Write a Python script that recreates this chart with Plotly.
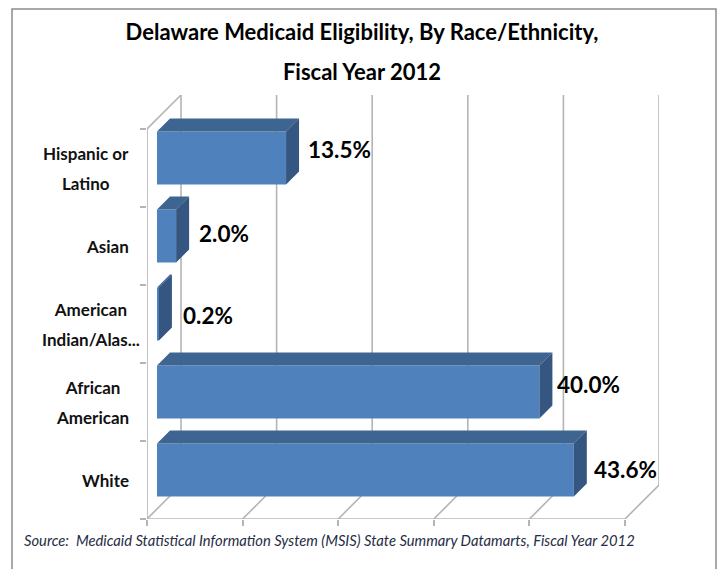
import plotly.graph_objects as go

# --- data (bottom to top, as the axis runs) ---
categories = ["White", "African<br>American", "American<br>Indian/Alas...", "Asian", "Hispanic or<br>Latino"]
values = [43.6, 40.0, 0.2, 2.0, 13.5]
value_labels = ["43.6%", "40.0%", "0.2%", "2.0%", "13.5%"]
x_ticks = [0, 10, 20, 30, 40, 50]
title_lines = ["Delaware Medicaid Eligibility, By Race/Ethnicity,", "Fiscal Year 2012"]
source_text = "Source:  Medicaid Statistical Information System (MSIS) State Summary Datamarts, Fiscal Year 2012"

# --- geometry / style ---
W, H = 719, 569
L, R_PX, T, B = 147, 659, 95, 519
PX_PER_X = 478 / 50
PX_PER_Y = 78
WALL = 34
BAR_OFFSET = 10
BAR_DEPTH = 13
BAR_WIDTH = 53 / 78
ys = list(range(len(categories)))
wx, wy = WALL / PX_PER_X, WALL / PX_PER_Y
ox, oy = BAR_OFFSET / PX_PER_X, BAR_OFFSET / PX_PER_Y
dx, dy = BAR_DEPTH / PX_PER_X, BAR_DEPTH / PX_PER_Y
y0, y1 = -0.5, len(categories) - 0.5
FONT = "Lato"
GRID = "#b4b4b4"
label_nudge_x = [18, 16, 22, 21, 20]
label_nudge_y = [1, 8, -1, 3, 9]
category_nudge_x = [-16, -16, -5, -16, -16]

fig = go.Figure()

# walls as shapes beneath the bars
shapes = []
def seg(x_a, y_a, x_b, y_b, color=GRID, width=1.6):
    shapes.append(dict(type="line", xref="x", yref="y", layer="below", x0=x_a, y0=y_a, x1=x_b, y1=y_b,
                       line=dict(color=color, width=width)))
for t in x_ticks:
    seg(t + wx, y0 + wy, t + wx, y1 + wy)
    seg(t, y0, t + wx, y0 + wy)
seg(0, y1, wx, y1 + wy)
seg(0, y0, 0, y1)
seg(0, y0, x_ticks[-1], y0)

# page frame
def px(xp): return (xp - L) / (R_PX - L)
def py(yp): return (B - yp) / (B - T)
shapes.append(dict(type="path", xref="paper", yref="paper", layer="below",
                   path=f"M {px(12)} {py(569)} L {px(12)} {py(9)} L {px(716)} {py(9)} L {px(716)} {py(569)}",
                   line=dict(color="#8c8c8c", width=1.5)))

# front faces
fig.add_bar(x=values, y=[y + oy for y in ys], base=ox, orientation="h", width=BAR_WIDTH,
            marker=dict(color="#4f81bd", line=dict(width=0)), hoverinfo="skip", showlegend=False)

# top and side faces derived from the values
tx, ty, sx, sy = [], [], [], []
for v, y in zip(values, ys):
    xa, xb = ox, ox + v
    yc = y + oy
    top, bot = yc + BAR_WIDTH / 2, yc - BAR_WIDTH / 2
    tx += [xa, xb, xb + dx, xa + dx, xa, None]
    ty += [top, top, top + dy, top + dy, top, None]
    sx += [xb, xb + dx, xb + dx, xb, xb, None]
    sy += [bot, bot + dy, top + dy, top, bot, None]
fig.add_scatter(x=tx, y=ty, mode="lines", fill="toself", fillcolor="#3e6592", line=dict(width=0),
                hoverinfo="skip", showlegend=False)
fig.add_scatter(x=sx, y=sy, mode="lines", fill="toself", fillcolor="#345680", line=dict(width=0),
                hoverinfo="skip", showlegend=False)

annotations = []
for c, y, nx in zip(categories, ys, category_nudge_x):
    html = "<br>".join(f'<span style="font-size:17px"><b>{s}</b></span>' for s in c.split("<br>"))
    annotations.append(dict(text=html, xref="paper", yref="y", x=0, y=y, xanchor="right", yanchor="middle",
                            xshift=nx, align="center", showarrow=False,
                            font=dict(family=FONT, size=23, color="#111111")))
for v, y, lab, nx, ny in zip(values, ys, value_labels, label_nudge_x, label_nudge_y):
    annotations.append(dict(text=f"<b>{lab}</b>", xref="x", yref="y", x=ox + v, y=y + oy, xanchor="left",
                            yanchor="middle", xshift=nx, yshift=ny, showarrow=False,
                            font=dict(family=FONT, size=22.5, color="#000000")))
annotations.append(dict(text=f"<i>{source_text}</i>", xref="paper", yref="paper", x=px(22), y=py(540),
                        xanchor="left", yanchor="middle", showarrow=False,
                        font=dict(family=FONT, size=14.75, color="#1f2d45")))

title_html = "<br>".join(f'<span style="font-size:22px"><b>{s}</b></span>' for s in title_lines)
fig.update_layout(
    width=W, height=H, margin=dict(l=L, r=W - R_PX, t=T, b=H - B),
    paper_bgcolor="white", plot_bgcolor="white", showlegend=False, shapes=shapes, annotations=annotations,
    title=dict(text=title_html, x=362 / W, xanchor="center", y=1 - 40 / H, yanchor="top",
               font=dict(family=FONT, size=31, color="#000000")),
    xaxis=dict(range=[0, x_ticks[-1] + wx], tickmode="array", tickvals=x_ticks, showticklabels=False,
               showgrid=False, zeroline=False, ticks="outside", ticklen=6, tickcolor=GRID, tickwidth=1.6),
    yaxis=dict(range=[y0, y1 + wy], tickmode="array", tickvals=[y - 0.5 for y in ys] + [y1],
               showticklabels=False, showgrid=False, zeroline=False, ticks="outside", ticklen=6,
               tickcolor=GRID, tickwidth=1.6),
)
fig.write_html("out.html", config=dict(displayModeBar=False), post_script="document.body.style.margin='0';")
